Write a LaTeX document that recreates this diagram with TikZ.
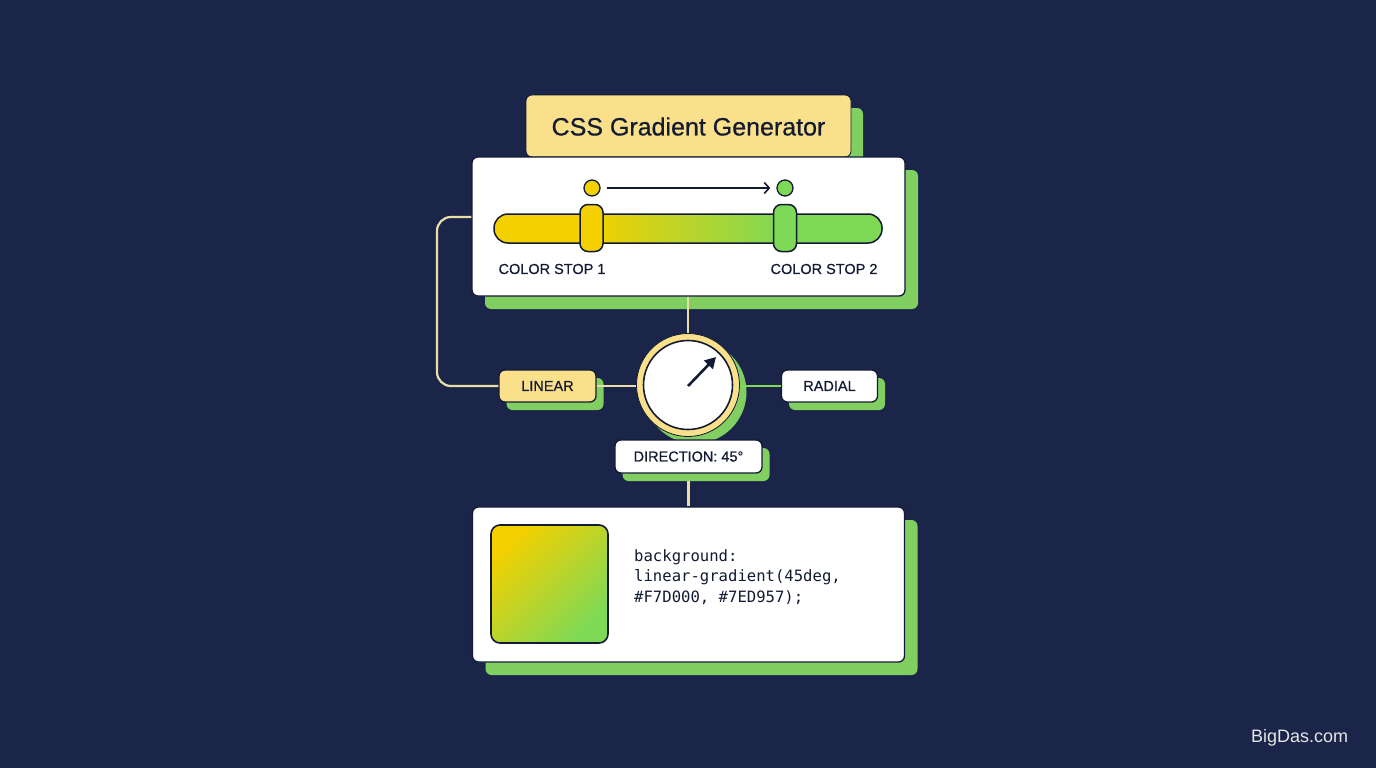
\documentclass[tikz,border=0pt]{standalone}
\usepackage{fontspec}
\setmainfont{Liberation Sans}
\newfontfamily\medfont{Liberation Sans}[FakeBold=0.6]
\setmonofont{DejaVu Sans Mono}
\usetikzlibrary{shadows,arrows.meta,calc}
\definecolor{bg}{HTML}{1A2549}
\definecolor{dark}{HTML}{131B33}
\definecolor{ly}{HTML}{FAE08A}
\definecolor{sg}{HTML}{7ED957}
\definecolor{sy}{HTML}{F4D000}
\definecolor{shg}{HTML}{80CF60}
\definecolor{pale}{HTML}{E9DFA6}
\definecolor{wm}{HTML}{E6E6E6}
\pgfdeclarehorizontalshading{slidergrad}{100bp}{color(0bp)=(sy); color(37.5bp)=(sy); color(62.5bp)=(sg); color(100bp)=(sg)}
\tikzset{
  box/.style={draw=dark, line width=1.3pt, rounded corners=6pt, inner sep=0pt, text=dark},
  bigshadow/.style={drop shadow={shadow xshift=13pt, shadow yshift=-13pt, fill=shg, opacity=1}},
  smallshadow/.style={drop shadow={shadow xshift=7.5pt, shadow yshift=-8pt, fill=shg, opacity=1}},
  lbl/.style={text=dark, font=\medfont\fontsize{14.5}{17}\selectfont},
  conn/.style={draw=pale, line width=2.2pt},
  gconn/.style={draw=sg, line width=2.2pt},
  code/.style={text=dark, font=\ttfamily\fontsize{15.6}{19}\selectfont, anchor=base west, inner sep=0pt},
}
\begin{document}
\begin{tikzpicture}[x=1pt,y=-1pt]
\fill[bg] (0,0) rectangle (1376,768);
\useasboundingbox (0,0) rectangle (1376,768);

% title
\node[box, fill=ly, line width=0.8pt, minimum width=325pt, minimum height=62pt,
  drop shadow={shadow xshift=12pt, shadow yshift=-13pt, fill=shg, opacity=1}] (title) at (688.5,126) {};
% top panel
\node[box, fill=white, bigshadow, minimum width=433pt, minimum height=139pt] (panel1) at (688.5,226.5) {};
\node[text=dark, font=\medfont\fontsize{25}{30}\selectfont, inner sep=0pt] (titletext) at (688.5,126.5) {CSS Gradient Generator};

% slider
\node[draw=dark, line width=1.5pt, shading=slidergrad, rounded corners=14pt, minimum width=388pt, minimum height=29pt, inner sep=0pt] (bar) at (688,228.5) {};
\node[draw=dark, line width=1.5pt, fill=sy, rounded corners=8pt, minimum width=23pt, minimum height=47pt, inner sep=0pt] (h1) at (591.5,228) {};
\node[draw=dark, line width=1.5pt, fill=sg, rounded corners=8pt, minimum width=23pt, minimum height=47pt, inner sep=0pt] (h2) at (785,228) {};
\node[circle, draw=dark, line width=1.3pt, fill=sy, minimum size=16pt, inner sep=0pt] (d1) at (592,188) {};
\node[circle, draw=dark, line width=1.3pt, fill=sg, minimum size=16pt, inner sep=0pt] (d2) at (785,188) {};
\draw[dark, line width=1.6pt, -{Straight Barb[length=5pt,width=11pt]}] ([xshift=6pt]d1.east) -- ([xshift=-6pt]d2.west);
\node[lbl, inner sep=0pt] (cs1) at (552,269) {COLOR STOP 1};
\node[lbl, inner sep=0pt] (cs2) at (824,269) {COLOR STOP 2};

% dial
\node[circle, fill=ly, draw=dark, line width=0.8pt, minimum size=103pt, inner sep=0pt,
  drop shadow={shadow xshift=7pt, shadow yshift=-7pt, fill=shg, opacity=1}] (dial) at (688,385) {};
\node[circle, fill=white, draw=dark, line width=1.6pt, minimum size=89pt, inner sep=0pt] (dialin) at (dial.center) {};
\draw[dark, line width=2.6pt, -{Triangle[length=11pt,width=12pt]}] ([shift={(0,1)}]dial.center) -- ([shift={(28,-28)}]dial.center);

% mode boxes
\node[box, fill=ly, smallshadow, minimum width=97pt, minimum height=32pt, lbl] (linear) at (547.5,386) {LINEAR};
\node[box, fill=white, smallshadow, minimum width=96pt, minimum height=32pt, lbl] (radial) at (829.5,386) {RADIAL};
\node[box, fill=white, smallshadow, minimum width=147pt, minimum height=33pt, lbl] (dir) at (688.5,456.5) {DIRECTION: 45°};

% bottom panel
\node[box, fill=white, bigshadow, minimum width=432pt, minimum height=155pt] (panel2) at (688.5,584.5) {};
\node[draw=dark, line width=1.6pt, rounded corners=9pt, top color=sy, bottom color=sg, shading angle=45, minimum width=117pt, minimum height=118pt, inner sep=0pt] (swatch) at (549.5,584) {};
\node[code] (c1) at (634,561) {background:};
\node[code] (c2) at (634,581.5) {linear-gradient(45deg,};
\node[code] (c3) at (634,602) {\#F7D000, \#7ED957);};

% connectors
\coordinate (loopx) at (437,217);
\draw[conn] (dial.north |- panel1.south) -- (dial.north);
\draw[conn, rounded corners=14pt] (panel1.west |- loopx) -- (loopx) |- (linear.west);
\draw[conn] (linear.east) -- (linear.east -| dial.west);
\draw[gconn] (radial.west -| dial.east) -- (radial.west);
\draw[conn] (dir.south -| panel2.north) ++(0,7) -- (panel2.north);

% watermark
\node[text=wm, font=\fontsize{18}{22}\selectfont, inner sep=0pt] (wmk) at (1299.5,738) {BigDas.com};
\end{tikzpicture}
\end{document}
